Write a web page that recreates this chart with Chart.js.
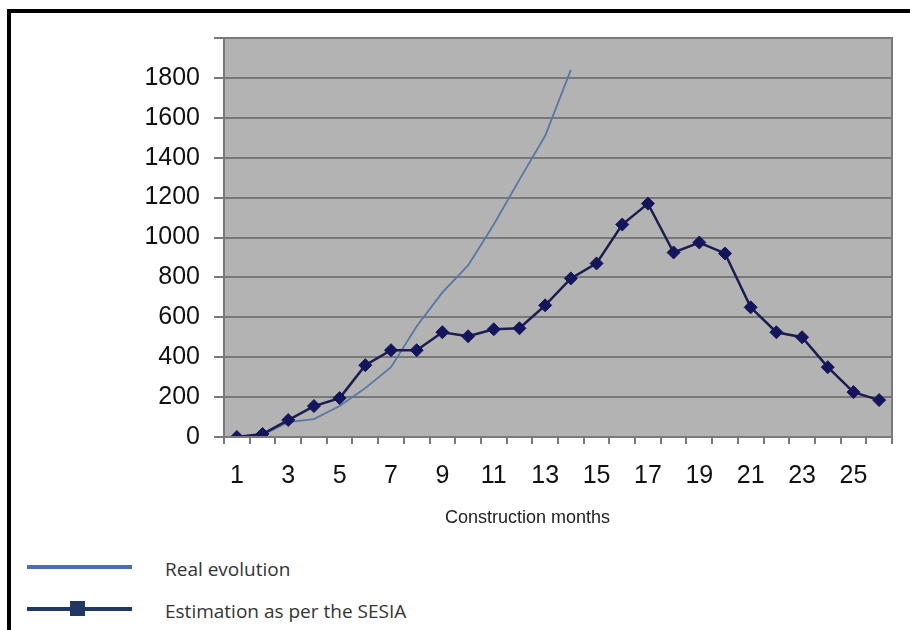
<!DOCTYPE html>
<html>
<head>
<meta charset="utf-8">
<script src="https://cdn.jsdelivr.net/npm/chart.js@4.4.0/dist/chart.umd.min.js"></script>
<style>
  html, body { margin: 0; padding: 0; background: #fff; }
  #wrap { position: relative; width: 910px; height: 630px; overflow: hidden; }
  #frame { position: absolute; left: 7px; top: 9px; width: 920px; height: 640px;
           border-top: 4px solid #000; border-left: 4px solid #000; }
  #chartBox { position: absolute; left: 0; top: 0; width: 910px; height: 540px; }
  .txt { position: absolute; white-space: nowrap; line-height: 20px; }
  #xTitle { left: 445px; top: 507px; font: 18px "Liberation Sans", Arial, sans-serif; color: #222; }
  .legText { left: 165px; font: 19px "Open Sans", sans-serif; color: #333; }
  .legLine { position: absolute; left: 27px; width: 105px; }
  .legMark { position: absolute; left: 70px; width: 15px; height: 15px; background: #1f3864; }
</style>
</head>
<body>
<div id="wrap">
  <div id="frame"></div>
  <div id="chartBox"><canvas id="myChart" width="910" height="540"></canvas></div>
  <div class="txt" id="xTitle">Construction months</div>

  <!-- legend -->
  <div class="legLine" style="top:565px;height:4px;background:#4a6fb0"></div>
  <div class="txt legText" style="top:556px">Real evolution</div>
  <div class="legLine" style="top:607px;height:4px;background:#1f3864"></div>
  <div class="legMark" style="top:601px"></div>
  <div class="txt legText" style="top:598px">Estimation as per the SESIA</div>
</div>

<script>
// months on the x axis
var months = [];
for (var i = 1; i <= 26; i++) { months.push(String(i)); }

// values
var realEvolution = [0, 10, 75, 90, 155, 245, 350, 555, 725, 860, 1065, 1290, 1510, 1840];
var sesiaEstimation = [0, 15, 85, 155, 195, 360, 435, 435, 525, 505, 540, 545, 660, 795,
                       870, 1065, 1170, 925, 975, 920, 650, 525, 500, 350, 225, 185];

var yMin = 0;
var yMax = 2000;
var yStep = 200;

//Gray plot background and border around it
var plotBg = {
    id: 'plotBg',
    beforeDraw: function(chart){
        var a = chart.chartArea;
        var ctx = chart.ctx;
        ctx.save();
        ctx.fillStyle = '#b3b3b3';
        ctx.fillRect(a.left, a.top, a.right - a.left, a.bottom - a.top);
        ctx.restore();
    },
    afterDraw: function(chart){
        var a = chart.chartArea;
        var ctx = chart.ctx;
        ctx.save();
        ctx.strokeStyle = '#7a7a7a';
        ctx.lineWidth = 2;
        ctx.strokeRect(a.left, a.top, a.right - a.left, a.bottom - a.top);
        ctx.restore();
    }
};

var ctx = document.getElementById('myChart');
var myChart = new Chart(ctx, {
    type: 'line',
    data: {
        labels: months,
        datasets: [{
            label: 'Estimation as per the SESIA',
            data: sesiaEstimation,
            borderColor: '#1c1c4e',
            borderWidth: 2.5,
            pointStyle: 'rectRot',
            pointRadius: 6.5,
            pointBorderWidth: 1,
            pointBackgroundColor: '#15155c',
            pointBorderColor: '#15155c',
            tension: 0
        }, {
            label: 'Real evolution',
            data: realEvolution,
            borderColor: '#5878a3',
            borderWidth: 1.8,
            pointRadius: 0,
            tension: 0
        }]
    },
    options: {
        responsive: false,
        animation: false,
        layout: { padding: { left: 0, top: 38, right: 18, bottom: 0 } },
        plugins: {
            legend: { display: false },
            tooltip: { enabled: false }
        },
        scales: {
            x: {
                type: 'category',
                offset: true,
                grid: {
                    offset: true,
                    drawOnChartArea: false,
                    drawTicks: true,
                    tickLength: 7,
                    color: '#7a7a7a',
                    lineWidth: 2
                },
                border: { display: true, color: '#6e6e6e', width: 2 },
                ticks: {
                    autoSkip: false,
                    maxRotation: 0,
                    padding: 17,
                    color: '#111',
                    font: { family: '"Liberation Sans", Arial, sans-serif', size: 25 },
                    callback: function(val, idx){
                        return idx % 2 === 0 ? months[idx] : '';
                    }
                },
                afterFit: function(scale){ scale.height = 103; }
            },
            y: {
                min: yMin,
                max: yMax,
                grid: {
                    color: '#787878',
                    lineWidth: 2,
                    drawTicks: true,
                    tickLength: 10
                },
                border: { display: true, color: '#6e6e6e', width: 2 },
                ticks: {
                    stepSize: yStep,
                    padding: 14,
                    color: '#111',
                    font: { family: '"Liberation Sans", Arial, sans-serif', size: 25 },
                    callback: function(val){
                        return val >= yMax ? '' : val;
                    }
                },
                afterFit: function(scale){ scale.width = 224; }
            }
        }
    },
    plugins: [plotBg]
});
</script>
</body>
</html>
